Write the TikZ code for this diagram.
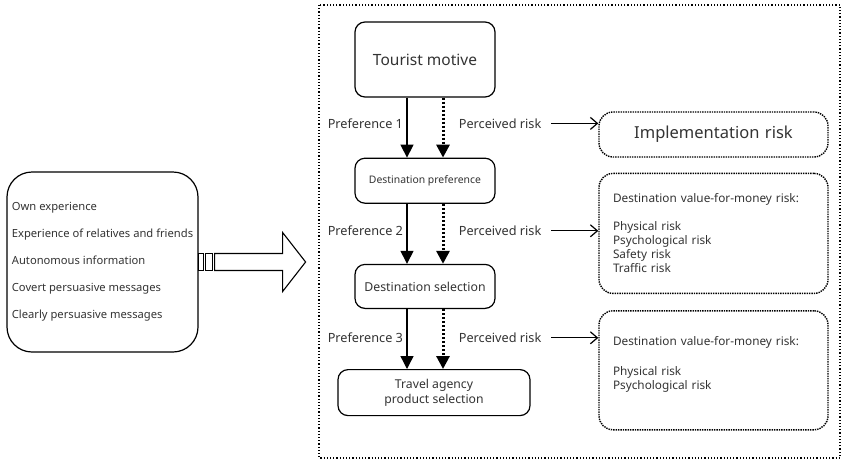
\documentclass[tikz,border=0pt]{standalone}
\usepackage{fontspec}
\setmainfont{Noto Sans}
\usetikzlibrary{positioning,arrows.meta}
\definecolor{txt}{HTML}{333333}

\begin{document}
\begin{tikzpicture}[x=1pt,y=-1pt,node distance=60pt,
  every node/.style={text=txt},
  box/.style={draw,rounded corners=10pt,line width=1.2pt,minimum width=140pt,align=center},
  riskbox/.style={draw,rounded corners=14pt,line width=1.4pt,densely dotted,minimum width=229pt,align=left,text width=201pt},
  flow/.style={-{Triangle[width=13pt,length=13pt]},line width=1.4pt},
  risk/.style={flow,line width=3pt,dash pattern=on 2.2pt off 1.8pt},
  pointer/.style={-{Straight Barb[width=12pt,length=7pt]},line width=1.2pt},
  lbl/.style={font=\fontsize{12.7}{15}\selectfont}]
  \useasboundingbox (0,0) rectangle (842,461);

  % outer frame
  \draw[line width=1.2pt,dotted] (319,5) rectangle (840,458);

  % sources of information
  \node[draw,rounded corners=25pt,line width=1.2pt,minimum width=191pt,minimum height=180pt,
    align=left,font=\fontsize{11.2}{27}\selectfont] (source) at (102.5,262)
    {Own experience\\Experience of relatives and friends\\Autonomous information\\Covert persuasive messages\\Clearly persuasive messages};
  \draw[line width=1.1pt] (source.east) ++(0,-8.5) rectangle ++(5,17);
  \draw[line width=1.1pt] (source.east) ++(7,-8.5) rectangle ++(7,17);
  \draw[line width=1.1pt] (source.east) ++(16,-8.5) -- ++(68,0) -- ++(0,-21) -- ++(23,29.5)
    -- ++(-23,29.5) -- ++(0,-21) -- ++(-68,0) -- cycle;

  % decision chain
  \node[box,minimum height=75pt,font=\fontsize{15.5}{18}\selectfont] (motive) at (425,59.5) {Tourist motive};
  \node[box,minimum height=45pt,below=of motive,font=\fontsize{10.4}{12}\selectfont] (pref) {Destination preference};
  \node[box,minimum height=44pt,below=of pref,font=\fontsize{12.3}{14}\selectfont] (sel) {Destination selection};
  \node[box,minimum height=46pt,minimum width=192pt,below=of sel,xshift=9pt,font=\fontsize{12.2}{14.5}\selectfont] (agency) {Travel agency\\product selection};

  \draw[flow] ([xshift=-18pt]motive.south) -- node[lbl,left,pos=0.43] (pref1) {Preference 1} ([xshift=-18pt]pref.north);
  \draw[risk] ([xshift=18pt]motive.south) -- node[lbl,right=11pt,pos=0.43] (risk1) {Perceived risk} ([xshift=18pt]pref.north);
  \draw[flow] ([xshift=-18pt]pref.south) -- node[lbl,left,pos=0.45] (pref2) {Preference 2} ([xshift=-18pt]sel.north);
  \draw[risk] ([xshift=18pt]pref.south) -- node[lbl,right=11pt,pos=0.45] (risk2) {Perceived risk} ([xshift=18pt]sel.north);
  \draw[flow] ([xshift=-18pt]sel.south) -- node[lbl,left,pos=0.48] (pref3) {Preference 3} ([xshift=-27pt]agency.north);
  \draw[risk] ([xshift=18pt]sel.south) -- node[lbl,right=11pt,pos=0.48] (risk3) {Perceived risk} ([xshift=9pt]agency.north);

  % risk types
  \node[riskbox,minimum height=45pt,align=center,font=\fontsize{16.5}{19}\selectfont] (impl) at (713.5,134.5) {Implementation risk};
  \node[riskbox,minimum height=120pt,below=15pt of impl,font=\fontsize{11.8}{14}\selectfont] (value1)
    {Destination value-for-money risk:\\[14pt]Physical risk\\Psychological risk\\Safety risk\\Traffic risk};
  \node[riskbox,minimum height=119pt,below=16pt of value1,font=\fontsize{11.8}{14}\selectfont] (value2)
    {Destination value-for-money risk:\\[16pt]Physical risk\\Psychological risk\\ \mbox{}};

  \draw[pointer] ([xshift=5pt]risk1.east) -- (risk1.east -| impl.west);
  \draw[pointer] ([xshift=5pt]risk2.east) -- (risk2.east -| value1.west);
  \draw[pointer] ([xshift=5pt]risk3.east) -- (risk3.east -| value2.west);
\end{tikzpicture}
\end{document}
